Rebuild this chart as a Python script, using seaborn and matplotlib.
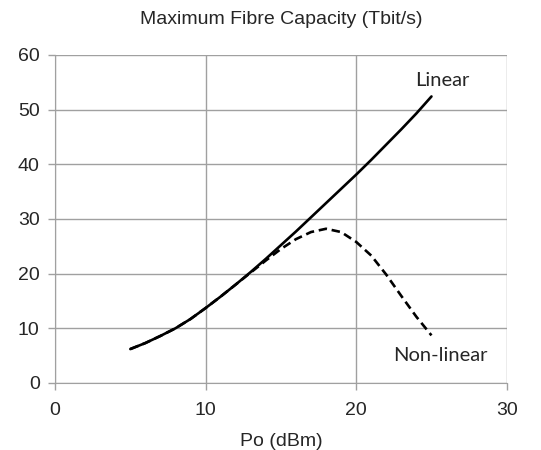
import matplotlib
matplotlib.use("Agg")
import matplotlib.pyplot as plt
import seaborn as sns
import pandas as pd

po_dbm = [5, 6, 7, 8, 9, 10, 11, 12, 13, 14, 15, 16, 17, 18, 19, 20, 21, 22, 23, 24, 25]
linear = [6.2, 7.3, 8.6, 10.0, 11.7, 13.7, 15.8, 18.0, 20.3, 22.7, 25.2, 27.7, 30.3, 32.9,
          35.5, 38.1, 40.8, 43.6, 46.4, 49.3, 52.4]
nonlinear = [6.2, 7.3, 8.6, 10.0, 11.7, 13.7, 15.8, 18.0, 20.2, 22.4, 24.5, 26.3, 27.6, 28.2,
             27.6, 25.8, 23.3, 19.8, 15.9, 12.1, 8.7]
x_ticks = [0, 10, 20, 30]
y_ticks = [0, 10, 20, 30, 40, 50, 60]

df = pd.DataFrame({"Po": po_dbm + po_dbm,
                   "cap": linear + nonlinear,
                   "series": ["Linear"] * len(po_dbm) + ["Non-linear"] * len(po_dbm)})

sns.set_style("white")
plt.rcParams["font.family"] = ["Liberation Sans", "DejaVu Sans"]

fig = plt.figure(figsize=(5.41, 4.5), dpi=100)
ax = fig.add_axes([0.1017, 0.149, 0.835, 0.729])

sns.lineplot(data=df[df.series == "Non-linear"], x="Po", y="cap", ax=ax, color="black",
             linewidth=1.9, linestyle=(0, (3.2, 1.8)), legend=False, zorder=2)
sns.lineplot(data=df[df.series == "Linear"], x="Po", y="cap", ax=ax, color="black",
             linewidth=1.9, legend=False, zorder=3)

ax.set_xlim(0, 30)
ax.set_ylim(0, 60)
ax.set_xticks(x_ticks)
ax.set_yticks(y_ticks)
ax.grid(True, color="#a0a0a0", linewidth=1.0)
ax.set_axisbelow(True)
for s in ax.spines.values():
    s.set_visible(False)
ax.spines["left"].set_visible(True)
ax.spines["bottom"].set_visible(True)
ax.spines["left"].set_color("#a0a0a0")
ax.spines["bottom"].set_color("#a0a0a0")
ax.tick_params(axis="both", which="both", direction="out", length=5, width=1.0,
               color="#a0a0a0", labelsize=14, left=True, bottom=True)
ax.tick_params(axis="y", pad=6)
ax.tick_params(axis="x", pad=9)

ax.set_xlabel("Po (dBm)", fontsize=14, labelpad=10)
ax.set_ylabel("")
fig.text(0.52, 0.957, "Maximum Fibre Capacity (Tbit/s)", ha="center", va="center", fontsize=14)

ax.text(25.7, 55.3, "Linear", ha="center", va="center", fontsize=14.5,
        family=["Lato", "DejaVu Sans"])
ax.text(25.6, 5.1, "Non-linear", ha="center", va="center", fontsize=14.5,
        family=["Lato", "DejaVu Sans"])

fig.savefig("out.png", dpi=100)
